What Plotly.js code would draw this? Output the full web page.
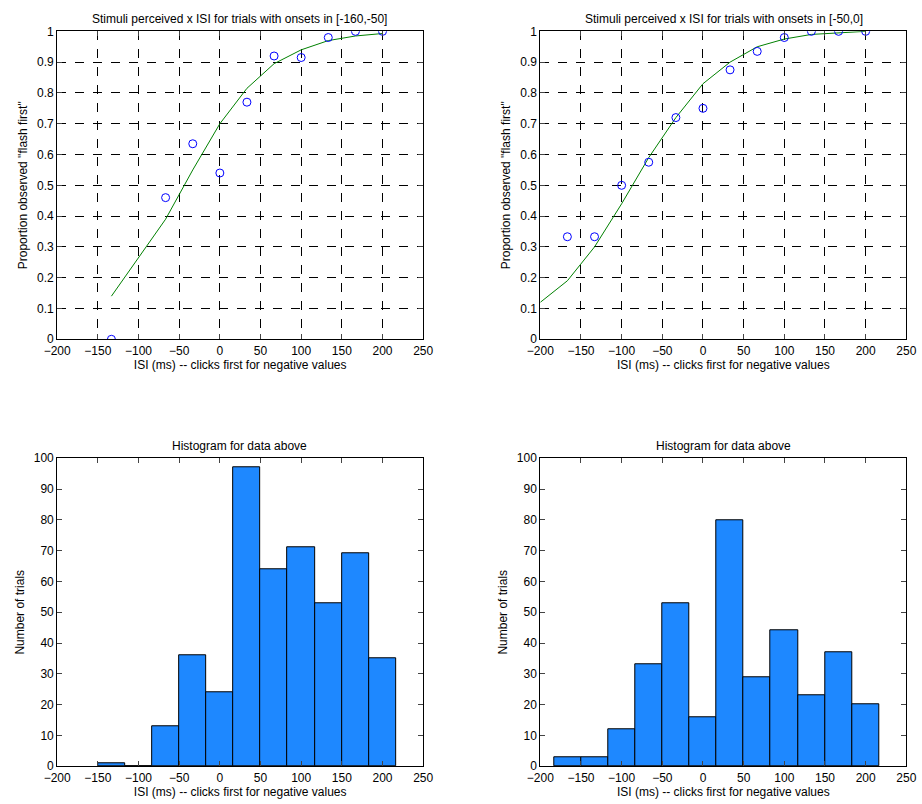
<!DOCTYPE html>
<html>
<head>
<meta charset="utf-8">
<script src="https://cdn.plot.ly/plotly-3.0.1.min.js"></script>
<style>body{margin:0;background:#fff}#chart{width:922px;height:804px}</style>
</head>
<body>
<div id="chart"></div>
<script>
// top-left: onsets in [-160,-50]
var isiA = [-133.3, -66.7, -33.3, 0, 33.3, 66.7, 100, 133.3, 166.7, 200];
var propA = [0, 0.46, 0.635, 0.54, 0.77, 0.92, 0.915, 0.98, 1, 1];
var fitA = [0.14, 0.39, 0.55, 0.70, 0.815, 0.895, 0.94, 0.97, 0.985, 0.993];
// top-right: onsets in [-50,0]
var isiB = [-166.7, -133.3, -100, -66.7, -33.3, 0, 33.3, 66.7, 100, 133.3, 166.7, 200];
var propB = [0.333, 0.333, 0.5, 0.575, 0.72, 0.75, 0.875, 0.935, 0.98, 1, 1, 1];
var fitXB = [-200, -166.7, -133.3, -100, -66.7, -33.3, 0, 33.3, 66.7, 100, 133.3, 166.7, 200];
var fitB = [0.12, 0.19, 0.30, 0.44, 0.59, 0.72, 0.83, 0.90, 0.95, 0.975, 0.99, 0.995, 1];
// histograms
var binsA = [-133.3, -100, -66.7, -33.3, 0, 33.3, 66.7, 100, 133.3, 166.7, 200];
var countA = [1, 0, 13, 36, 24, 97, 64, 71, 53, 69, 35];
var binsB = [-166.7, -133.3, -100, -66.7, -33.3, 0, 33.3, 66.7, 100, 133.3, 166.7, 200];
var countB = [3, 3, 12, 33, 53, 16, 80, 29, 44, 23, 37, 20];

var font = {family: 'Liberation Sans, Arial, sans-serif', size: 12, color: '#000'};
var xlab = 'ISI (ms) -- clicks first for negative values';

function xax(dom, anchor, grid) {
    return {domain: dom, anchor: anchor, range: [-200, 250], tickvals: [-200,-150,-100,-50,0,50,100,150,200,250],
        ticks: 'inside', ticklen: 5, mirror: 'allticks', showline: true, linecolor: '#000', zeroline: false,
        showgrid: grid, gridcolor: '#000', griddash: 'dash', gridwidth: 1,
        title: {text: xlab, font: font, standoff: 2}, tickfont: font};
}
function yax(dom, anchor, range, dtick, title, grid) {
    return {domain: dom, anchor: anchor, range: range, dtick: dtick,
        ticks: 'inside', ticklen: 5, mirror: 'allticks', showline: true, linecolor: '#000', zeroline: false,
        showgrid: grid, gridcolor: '#000', griddash: 'dash', gridwidth: 1,
        title: {text: title, font: font, standoff: 6}, tickfont: font};
}

var traces = [
    {x: isiA, y: fitA, type: 'scatter', mode: 'lines', line: {color: '#008000', width: 1}, xaxis: 'x', yaxis: 'y'},
    {x: isiA, y: propA, type: 'scatter', mode: 'markers', marker: {symbol: 'circle-open', color: '#0000ff', size: 8}, xaxis: 'x', yaxis: 'y'},
    {x: fitXB, y: fitB, type: 'scatter', mode: 'lines', line: {color: '#008000', width: 1}, xaxis: 'x2', yaxis: 'y2'},
    {x: isiB, y: propB, type: 'scatter', mode: 'markers', marker: {symbol: 'circle-open', color: '#0000ff', size: 8}, xaxis: 'x2', yaxis: 'y2'},
    {x: binsA, y: countA, type: 'bar', width: 33.3, marker: {color: '#1e88ff', line: {color: '#000', width: 1}}, xaxis: 'x3', yaxis: 'y3'},
    {x: binsB, y: countB, type: 'bar', width: 33.3, marker: {color: '#1e88ff', line: {color: '#000', width: 1}}, xaxis: 'x4', yaxis: 'y4'}
];

var dl = [0.062, 0.459], dr = [0.586, 0.983], dt = [0.578, 0.961], db = [0.047, 0.430];
var layout = {
    width: 922, height: 804, margin: {l: 0, r: 0, t: 0, b: 0},
    paper_bgcolor: '#fff', plot_bgcolor: '#fff', showlegend: false, font: font, bargap: 0,
    xaxis: xax(dl, 'y', true), yaxis: yax(dt, 'x', [0, 1], 0.1, 'Proportion observed "flash first"', true),
    xaxis2: xax(dr, 'y2', true), yaxis2: yax(dt, 'x2', [0, 1], 0.1, 'Proportion observed "flash first"', true),
    xaxis3: xax(dl, 'y3', false), yaxis3: yax(db, 'x3', [0, 100], 10, 'Number of trials', false),
    xaxis4: xax(dr, 'y4', false), yaxis4: yax(db, 'x4', [0, 100], 10, 'Number of trials', false),
    annotations: [
        {text: 'Stimuli perceived x ISI for trials with onsets in [-160,-50]', x: 0.26, y: 0.965, xref: 'paper', yref: 'paper', xanchor: 'center', yanchor: 'bottom', showarrow: false, font: font},
        {text: 'Stimuli perceived x ISI for trials with onsets in [-50,0]', x: 0.785, y: 0.965, xref: 'paper', yref: 'paper', xanchor: 'center', yanchor: 'bottom', showarrow: false, font: font},
        {text: 'Histogram for data above', x: 0.26, y: 0.434, xref: 'paper', yref: 'paper', xanchor: 'center', yanchor: 'bottom', showarrow: false, font: font},
        {text: 'Histogram for data above', x: 0.785, y: 0.434, xref: 'paper', yref: 'paper', xanchor: 'center', yanchor: 'bottom', showarrow: false, font: font}
    ]
};

Plotly.newPlot('chart', traces, layout, {displayModeBar: false});
</script>
</body>
</html>
